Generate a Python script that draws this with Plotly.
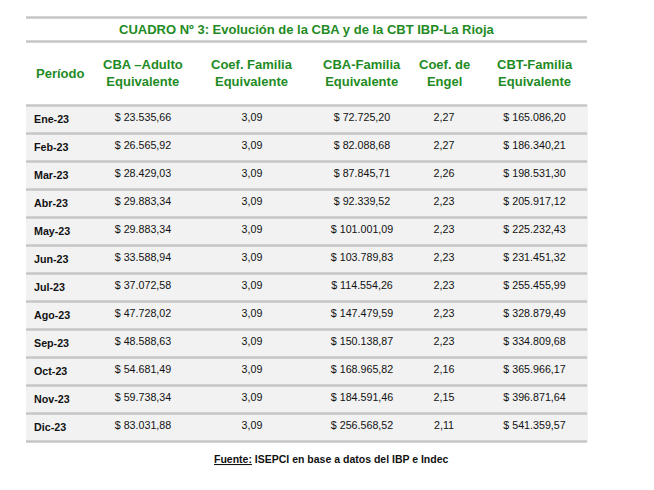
import plotly.graph_objects as go

# datos del cuadro
periodos = ["Ene-23", "Feb-23", "Mar-23", "Abr-23", "May-23", "Jun-23",
            "Jul-23", "Ago-23", "Sep-23", "Oct-23", "Nov-23", "Dic-23"]
cba_adulto = [23535.66, 26565.92, 28429.03, 29883.34, 29883.34, 33588.94,
              37072.58, 47728.02, 48588.63, 54681.49, 59738.34, 83031.88]
coef_familia = [3.09] * 12
cba_familia = [72725.20, 82088.68, 87845.71, 92339.52, 101001.09, 103789.83,
               114554.26, 147479.59, 150138.87, 168965.82, 184591.46, 256568.52]
coef_engel = [2.27, 2.27, 2.26, 2.23, 2.23, 2.23,
              2.23, 2.23, 2.23, 2.16, 2.15, 2.11]
cbt_familia = [165086.20, 186340.21, 198531.30, 205917.12, 225232.43, 231451.32,
               255455.99, 328879.49, 334809.68, 365966.17, 396871.64, 541359.57]
encabezados = ["Período", "CBA –Adulto<br>Equivalente", "Coef. Familia<br>Equivalente",
               "CBA-Familia<br>Equivalente", "Coef. de<br>Engel", "CBT-Familia<br>Equivalente"]

titulo = "CUADRO Nº 3: Evolución de la CBA y de la CBT IBP-La Rioja"
fuente = "ISEPCI en base a datos del IBP e Indec"

W, H = 654, 490
VERDE = "#1f8b24"
GRIS_FILA = "#f2f2f2"
GRIS_LINEA = "#c6c6c6"
FONT = "Liberation Sans, Arial, sans-serif"


def fmt(v):
    # formato es-AR: punto miles, coma decimal
    s = f"{v:,.2f}"
    return s.replace(",", "X").replace(".", ",").replace("X", ".")


def pesos(vals):
    # espacio duro para que la tabla no corte la linea
    return ["$\u00a0" + fmt(v) for v in vals]


def px_x(x):
    return x / W


def px_y(y):
    return 1 - y / H


left, right = 26, 587
anchos = [74, 86, 132, 88, 76, 105]   # suma = right - left
header_top, header_h, row_h = 48, 57, 28

fig = go.Figure()
fig.add_trace(go.Table(
    domain=dict(x=[px_x(left), px_x(right)], y=[px_y(480), px_y(header_top)]),
    columnwidth=anchos,
    header=dict(
        values=[""] * len(encabezados),   # textos del encabezado van como anotaciones centradas
        height=header_h,
        fill_color="white",
        line=dict(color="white", width=0),
    ),
    cells=dict(
        values=[["<b>%s</b>" % p for p in periodos],
                pesos(cba_adulto),
                [fmt(v) for v in coef_familia],
                pesos(cba_familia),
                [fmt(v) for v in coef_engel],
                pesos(cbt_familia)],
        align=["left", "center", "center", "center", "center", "center"],
        height=row_h,
        fill_color=GRIS_FILA,
        line=dict(color=GRIS_FILA, width=1),
        font=dict(family=FONT, size=10.7, color="#111111"),
    ),
))

# lineas horizontales del cuadro
lineas = [17.5, 41.5] + [header_top + header_h + 0.5 + row_h * k for k in range(len(periodos) + 1)]
for y in lineas:
    fig.add_shape(type="line", xref="paper", yref="paper",
                  x0=px_x(left), x1=px_x(right), y0=px_y(y), y1=px_y(y),
                  line=dict(color=GRIS_LINEA, width=2.5))

# encabezados centrados en cada columna
x0 = left
for i, (h, w) in enumerate(zip(encabezados, anchos)):
    cx = 60 if i == 0 else x0 + w / 2
    fig.add_annotation(text="<b>%s</b>" % h, xref="paper", yref="paper",
                       x=px_x(cx), y=px_y(73), xanchor="center", yanchor="middle",
                       align="center", showarrow=False,
                       font=dict(family=FONT, size=13, color=VERDE))
    x0 += w

fig.add_annotation(text="<b>%s</b>" % titulo, xref="paper", yref="paper",
                   x=px_x(307), y=px_y(30), xanchor="center", yanchor="middle",
                   showarrow=False, font=dict(family=FONT, size=13, color=VERDE))
fig.add_annotation(text="<b><u>Fuente:</u> %s</b>" % fuente, xref="paper", yref="paper",
                   x=px_x(331), y=px_y(459), xanchor="center", yanchor="middle",
                   showarrow=False, font=dict(family=FONT, size=10.5, color="#111111"))

fig.update_layout(width=W, height=H, margin=dict(l=0, r=0, t=0, b=0),
                  paper_bgcolor="white", plot_bgcolor="white")
fig.write_html("out.html", config={"displayModeBar": False},
               post_script="document.body.style.margin='0';")
